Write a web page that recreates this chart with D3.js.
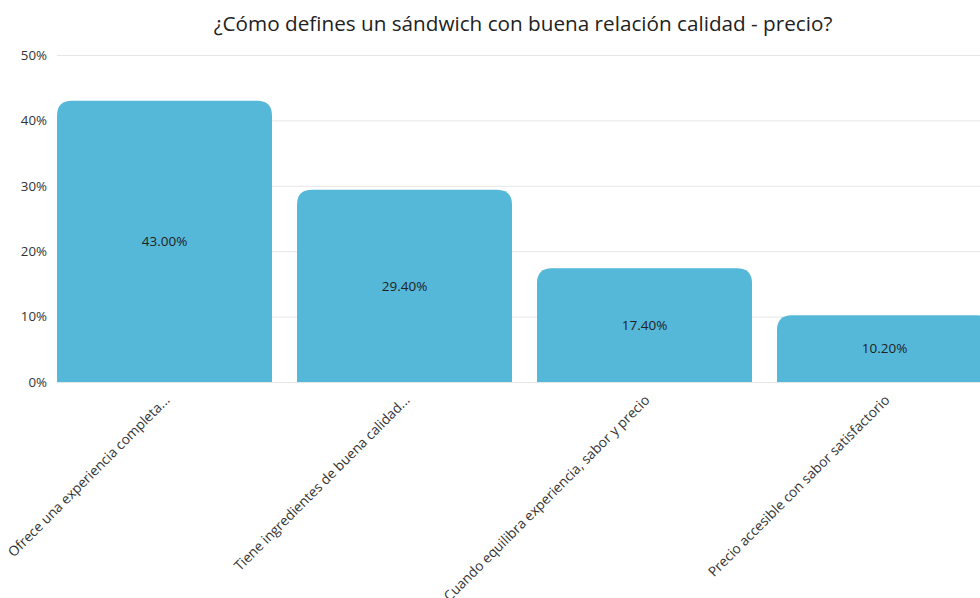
<!DOCTYPE html>
<html>
<head>
<meta charset="utf-8">
<script src="https://cdn.jsdelivr.net/npm/d3@7/dist/d3.min.js"></script>
<style>
  html, body { margin: 0; padding: 0; background: #fff; overflow: hidden; }
  svg { display: block; font-family: "Open Sans", sans-serif; }
</style>
</head>
<body>
<svg id="chart" width="980" height="598"></svg>
<script>
const title = "¿Cómo defines un sándwich con buena relación calidad - precio?";
const categories = [
  "Ofrece una experiencia completa...",
  "Tiene ingredientes de buena calidad...",
  "Cuando equilibra experiencia, sabor y precio",
  "Precio accesible con sabor satisfactorio"
];
const values = [43.0, 29.4, 17.4, 10.2];
const yTicks = [0, 10, 20, 30, 40, 50];

const svg = d3.select("#chart");
const margin = { left: 57, top: 55, bottom: 216 };
const plotH = 598 - margin.top - margin.bottom; // 327

const x = d3.scaleBand()
  .domain(categories)
  .range([margin.left, margin.left + 935])
  .paddingInner(25 / 240)
  .paddingOuter(0);

const y = d3.scaleLinear().domain([0, 50]).range([margin.top + plotH, margin.top]);

// title
svg.append("text")
  .attr("x", 523).attr("y", 31)
  .attr("text-anchor", "middle")
  .attr("font-size", 20.7)
  .attr("fill", "#222")
  .text(title);

// gridlines
svg.append("g")
  .selectAll("line")
  .data(yTicks)
  .join("line")
  .attr("x1", margin.left).attr("x2", 980)
  .attr("y1", d => y(d) + 0.5).attr("y2", d => y(d) + 0.5)
  .attr("stroke", "#e6e6e6").attr("stroke-width", 1);

// y axis
const yAxis = svg.append("g")
  .attr("transform", `translate(${margin.left - 10},0)`)
  .call(d3.axisLeft(y).tickValues(yTicks).tickFormat(d => d + "%").tickSize(0).tickPadding(0));
yAxis.select(".domain").remove();
yAxis.selectAll("text").attr("font-size", 13.3).attr("fill", "#333").attr("font-family", "Open Sans");

// bars with rounded top corners
const r = 15;
function barPath(d, i) {
  const x0 = x(categories[i]), w = x.bandwidth();
  const y0 = y(d), y1 = y(0);
  const rr = Math.min(r, (y1 - y0));
  return `M${x0},${y1} V${y0 + rr} Q${x0},${y0} ${x0 + rr},${y0} H${x0 + w - rr} Q${x0 + w},${y0} ${x0 + w},${y0 + rr} V${y1} Z`;
}
svg.append("g")
  .selectAll("path")
  .data(values)
  .join("path")
  .attr("d", barPath)
  .attr("fill", "#56b8d8");

// value labels
svg.append("g")
  .selectAll("text")
  .data(values)
  .join("text")
  .attr("x", (d, i) => x(categories[i]) + x.bandwidth() / 2)
  .attr("y", d => (y(d) + y(0)) / 2)
  .attr("dy", "0.35em")
  .attr("text-anchor", "middle")
  .attr("font-size", 13.5)
  .attr("fill", "#222")
  .text(d => d.toFixed(2) + "%");

// x axis labels
const xAxis = svg.append("g")
  .attr("transform", `translate(0,${y(0)})`)
  .call(d3.axisBottom(x).tickSize(0).tickPadding(0));
xAxis.select(".domain").remove();
xAxis.selectAll("text")
  .attr("font-size", 13.7)
  .attr("fill", "#333")
  .attr("font-family", "Open Sans")
  .attr("text-anchor", "end")
  .attr("dy", null)
  .attr("y", 0)
  .attr("transform", "translate(6,19) rotate(-45)");
</script>
</body>
</html>
